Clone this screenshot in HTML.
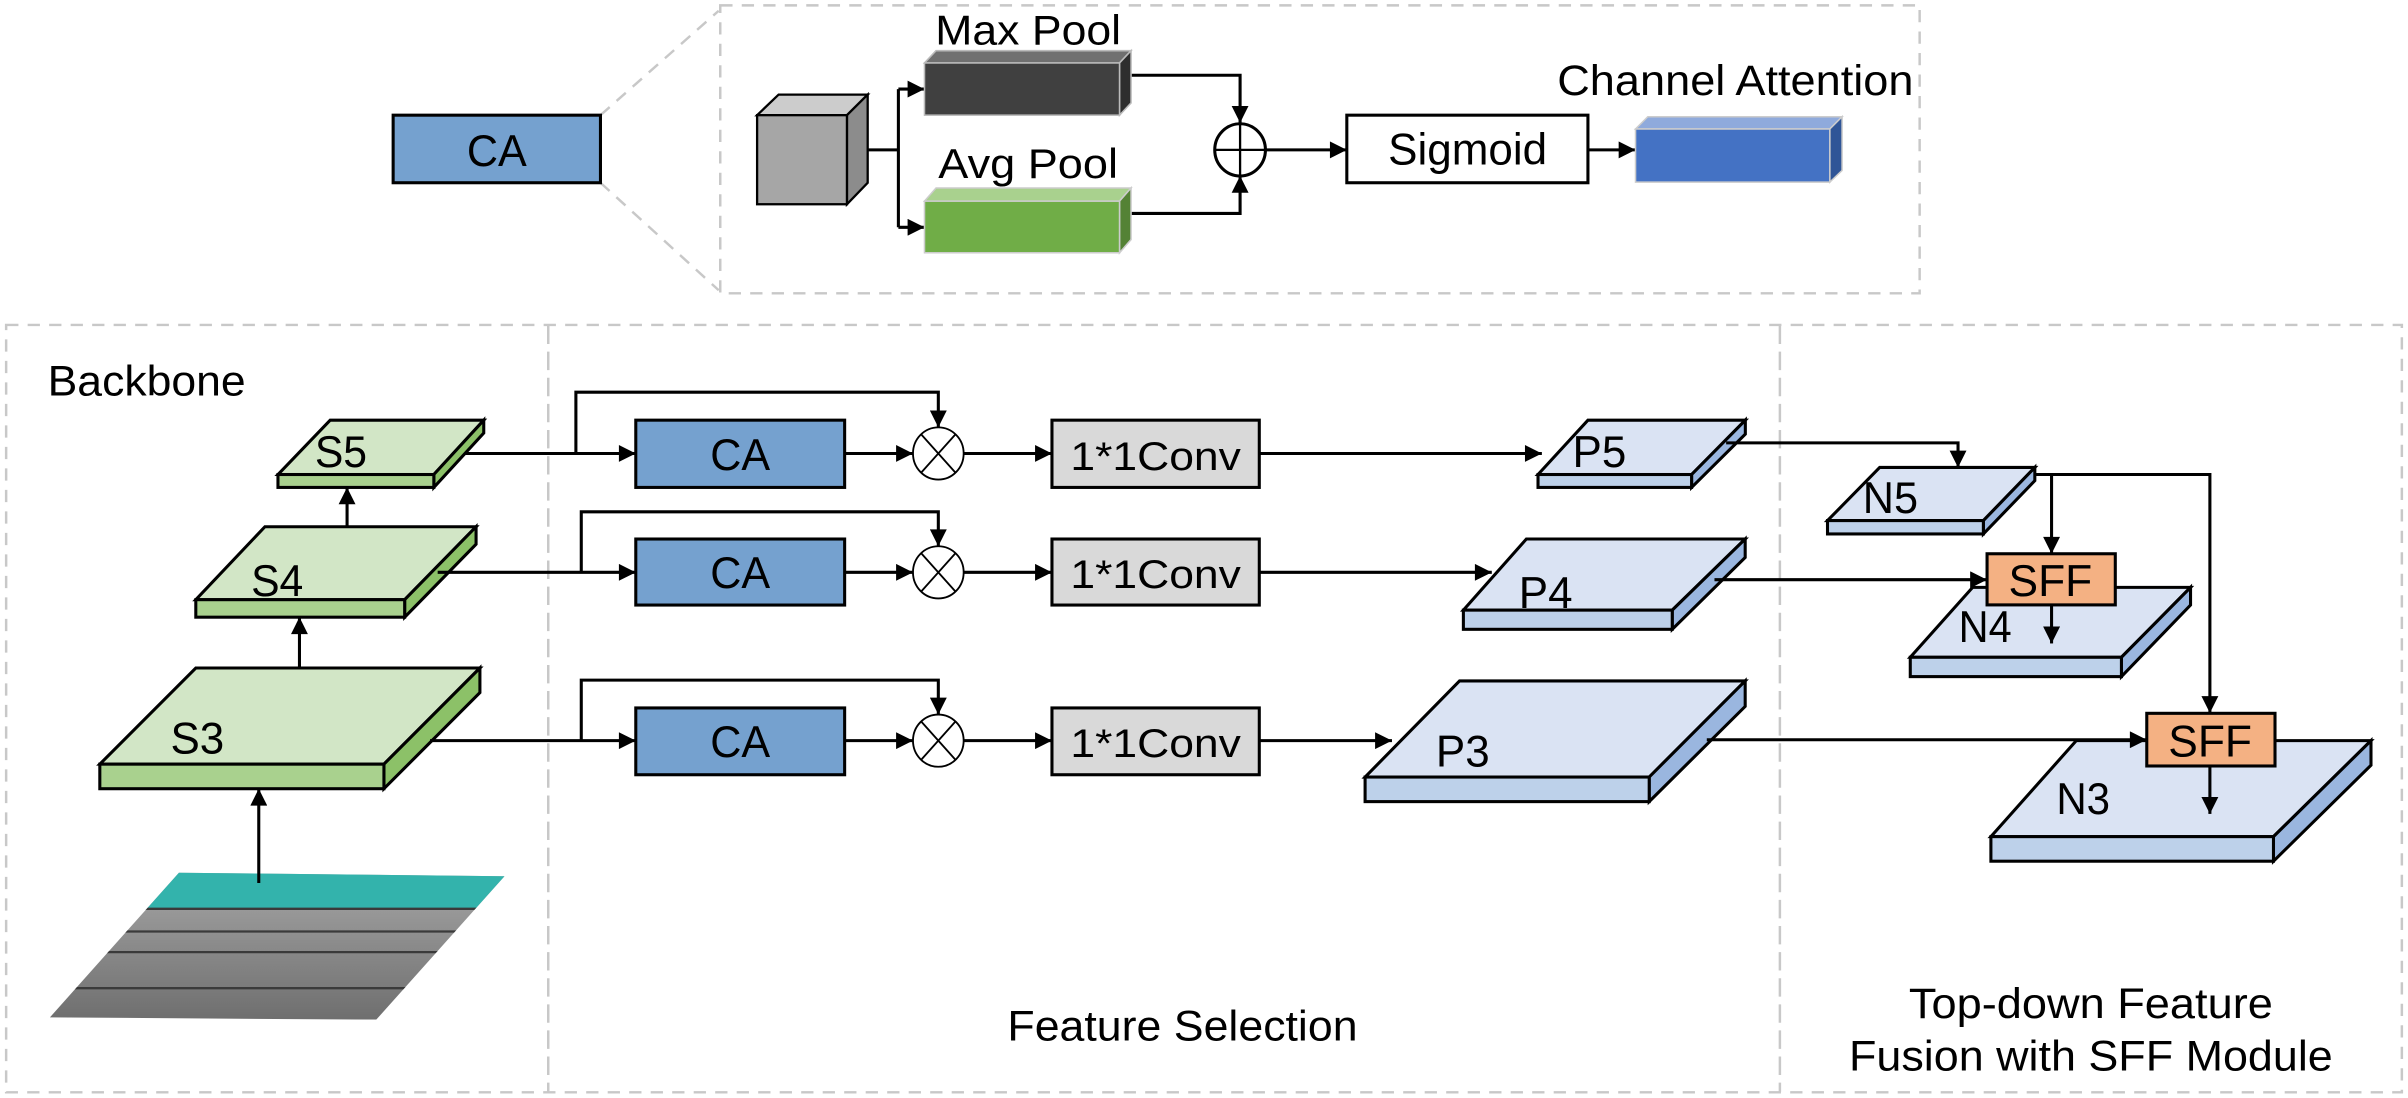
<!DOCTYPE html>
<html><head><meta charset="utf-8"><style>
html,body{margin:0;padding:0;background:#fff;width:2408px;height:1098px;overflow:hidden}
svg{display:block}
text{font-family:"Liberation Sans",Arial,sans-serif;fill:#000}
</style></head><body>
<svg width="2408" height="1098" viewBox="0 0 1568 715" preserveAspectRatio="none" xmlns="http://www.w3.org/2000/svg">
<defs>
<marker id="a" viewBox="0 0 10 10" refX="10" refY="5" markerWidth="13" markerHeight="11" markerUnits="userSpaceOnUse" orient="auto"><path d="M0,0L10,5L0,10z" fill="#000"/></marker>
<linearGradient id="g" x1="0" y1="0" x2="0" y2="1"><stop offset="0" stop-color="#a8a8a8"/><stop offset="1" stop-color="#6e6e6e"/></linearGradient>
<clipPath id="cp"><path d="M116.5,568.3L328.5,570.6L245,664L32.5,662.5z"/></clipPath>
</defs>
<g fill="none" stroke="#c8c8c8" stroke-width="1.6" stroke-dasharray="8,6">
<rect x="469" y="3.5" width="781" height="187.5"/>
<path d="M391,75L468,7M391,119L468,189"/>
<rect x="4" y="211.6" width="1560" height="499.7"/>
<path d="M357,212V711M1159,212V711" stroke-dasharray="12,5"/>
</g>
<!-- top CA -->
<rect x="256" y="75" width="135" height="44" fill="#75a1cf" stroke="#000" stroke-width="2"/>
<text x="323.5" y="108" font-size="29" text-anchor="middle" textLength="39" lengthAdjust="spacingAndGlyphs">CA</text>
<!-- cube -->
<path d="M493,75L507,61.6L565,61.6L551.5,75z" fill="#cccccc" stroke="#000" stroke-width="1.5"/>
<path d="M551.5,75L565,61.6L565,119L551.5,133z" fill="#8c8c8c" stroke="#000" stroke-width="1.5"/>
<rect x="493" y="75" width="58.5" height="58" fill="#a6a6a6" stroke="#000" stroke-width="1.5"/>
<g stroke="#000" stroke-width="2" fill="none">
<path d="M565,97.6H585M585,58V148"/>
<path d="M585,58H602" marker-end="url(#a)"/><path d="M585,148H602" marker-end="url(#a)"/>
<path d="M736.5,49H807.5V80" marker-end="url(#a)"/>
<path d="M736.5,139H807.5V114.5" marker-end="url(#a)"/>
<path d="M824,97.6H877" marker-end="url(#a)"/>
<path d="M1034,97.6H1065" marker-end="url(#a)"/>
</g>
<path d="M602,41L609.5,33L736.5,33L729,41z" fill="#707070" stroke="#bbb" stroke-width="1"/>
<path d="M729,41L736.5,33L736.5,67L729,75z" fill="#2e2e2e" stroke="#bbb" stroke-width="1"/>
<rect x="602" y="41" width="127" height="34" fill="#404040" stroke="#bbb" stroke-width="1"/>
<path d="M602,131L609.5,122.4L736.5,122.4L729,131z" fill="#a9d18e" stroke="#ccc" stroke-width="1"/>
<path d="M729,131L736.5,122.4L736.5,156L729,164.6z" fill="#548235" stroke="#ccc" stroke-width="1"/>
<rect x="602" y="131" width="127" height="33.6" fill="#70ad47" stroke="#ccc" stroke-width="1"/>
<text x="609" y="29" font-size="27" textLength="121" lengthAdjust="spacingAndGlyphs">Max Pool</text>
<text x="611" y="116" font-size="27" textLength="117" lengthAdjust="spacingAndGlyphs">Avg Pool</text>
<ellipse cx="807.5" cy="97.6" rx="16.5" ry="17" fill="#fff" stroke="#000" stroke-width="2"/>
<path d="M791,97.6H824M807.5,80.6V114.6" stroke="#000" stroke-width="1.5"/>
<rect x="877" y="75" width="157" height="44" fill="#fff" stroke="#000" stroke-width="2"/>
<text x="903.9" y="107" font-size="29" textLength="103.5" lengthAdjust="spacingAndGlyphs">Sigmoid</text>
<path d="M1065,84L1073,76L1199.5,76L1191.5,84z" fill="#8faadc" stroke="#ccc" stroke-width="1"/>
<path d="M1191.5,84L1199.5,76L1199.5,111L1191.5,118.6z" fill="#2f5597" stroke="#ccc" stroke-width="1"/>
<rect x="1065" y="84" width="126.5" height="34.6" fill="#4472c4" stroke="#ccc" stroke-width="1"/>
<text x="1014" y="62" font-size="28" textLength="232" lengthAdjust="spacingAndGlyphs">Channel Attention</text>
<!-- labels -->
<text x="31" y="257.6" font-size="28" textLength="129" lengthAdjust="spacingAndGlyphs">Backbone</text>
<text x="656" y="677.7" font-size="28" textLength="228" lengthAdjust="spacingAndGlyphs">Feature Selection</text>
<text x="1243" y="663" font-size="28" textLength="237" lengthAdjust="spacingAndGlyphs">Top-down Feature</text>
<text x="1204" y="697" font-size="28" textLength="315" lengthAdjust="spacingAndGlyphs">Fusion with SFF Module</text>
<!-- image -->
<g clip-path="url(#cp)">
<rect x="30" y="565" width="300" height="100" fill="url(#g)"/>
<rect x="30" y="565" width="300" height="26.8" fill="#33b3ac"/>
<path d="M30,591.8H330M30,606.6H330M30,620H330M30,643.5H330" stroke="#3a3a3a" stroke-width="1.5"/>
</g>
<path d="M168.5,575V513.6" stroke="#000" stroke-width="2" marker-end="url(#a)"/>
<!-- S slabs -->
<g stroke="#000" stroke-width="2">
<path d="M181,309L215,273.6L315,273.6L282.5,309z" fill="#d2e6c6"/>
<path d="M282.5,309L315,273.6L315,282L282.5,317.4z" fill="#8cc168"/>
<rect x="181" y="309" width="101.5" height="8.4" fill="#a9d18e"/>
<path d="M127.5,390.5L172.5,343L310,343L263.5,390.5z" fill="#d2e6c6"/>
<path d="M263.5,390.5L310,343L310,354.4L263.5,401.9z" fill="#8cc168"/>
<rect x="127.5" y="390.5" width="136" height="11.4" fill="#a9d18e"/>
<path d="M65,497.6L127.5,435L312.5,435L250,497.6z" fill="#d2e6c6"/>
<path d="M250,497.6L312.5,435L312.5,451L250,513.6z" fill="#8cc168"/>
<rect x="65" y="497.6" width="185" height="16" fill="#a9d18e"/>
</g>
<path d="M226,343V317.4" stroke="#000" stroke-width="2" marker-end="url(#a)"/>
<path d="M195,435V401.9" stroke="#000" stroke-width="2" marker-end="url(#a)"/>
<text x="205" y="304" font-size="29" textLength="34" lengthAdjust="spacingAndGlyphs">S5</text>
<text x="163.5" y="388" font-size="29" textLength="34" lengthAdjust="spacingAndGlyphs">S4</text>
<text x="111" y="490.8" font-size="29" textLength="35" lengthAdjust="spacingAndGlyphs">S3</text>
<!-- rows -->
<g stroke="#000" stroke-width="2" fill="none">
<path d="M302.5,295.3H414" marker-end="url(#a)"/>
<path d="M375,295.3V255.4H611V278.3" marker-end="url(#a)"/>
<path d="M550,295.3H594.5" marker-end="url(#a)"/>
<path d="M627.5,295.3H685" marker-end="url(#a)"/>
<path d="M820,295.3H1004" marker-end="url(#a)"/>
<path d="M285,372.7H414" marker-end="url(#a)"/>
<path d="M378.5,372.7V333.3H611V355.7" marker-end="url(#a)"/>
<path d="M550,372.7H594.5" marker-end="url(#a)"/>
<path d="M627.5,372.7H685" marker-end="url(#a)"/>
<path d="M820,372.7H971.4" marker-end="url(#a)"/>
<path d="M280,482.3H414" marker-end="url(#a)"/>
<path d="M378.5,482.3V442.9H611V465.3" marker-end="url(#a)"/>
<path d="M550,482.3H594.5" marker-end="url(#a)"/>
<path d="M627.5,482.3H685" marker-end="url(#a)"/>
<path d="M820,482.3H906.4" marker-end="url(#a)"/>
</g>
<g stroke="#000" stroke-width="2">
<rect x="414" y="273.6" width="136" height="43.8" fill="#75a1cf"/>
<rect x="414" y="351" width="136" height="43" fill="#75a1cf"/>
<rect x="414" y="461" width="136" height="43.5" fill="#75a1cf"/>
<rect x="685" y="273.6" width="135" height="43.8" fill="#d9d9d9"/>
<rect x="685" y="351" width="135" height="43" fill="#d9d9d9"/>
<rect x="685" y="461" width="135" height="43.5" fill="#d9d9d9"/>
</g>
<g font-size="29" text-anchor="middle">
<text x="482" y="306" textLength="39" lengthAdjust="spacingAndGlyphs">CA</text>
<text x="482" y="383" textLength="39" lengthAdjust="spacingAndGlyphs">CA</text>
<text x="482" y="493" textLength="39" lengthAdjust="spacingAndGlyphs">CA</text>
<text x="752.5" y="306" font-size="26" textLength="111" lengthAdjust="spacingAndGlyphs">1*1Conv</text>
<text x="752.5" y="383" font-size="26" textLength="111" lengthAdjust="spacingAndGlyphs">1*1Conv</text>
<text x="752.5" y="493" font-size="26" textLength="111" lengthAdjust="spacingAndGlyphs">1*1Conv</text>
</g>
<g fill="#fff" stroke="#000" stroke-width="1.2">
<ellipse cx="611" cy="295.3" rx="16.5" ry="17"/><path d="M600,283L622,307.6M622,283L600,307.6"/>
<ellipse cx="611" cy="372.7" rx="16.5" ry="17"/><path d="M600,360.4L622,385M622,360.4L600,385"/>
<ellipse cx="611" cy="482.3" rx="16.5" ry="17"/><path d="M600,470L622,494.6M622,470L600,494.6"/>
</g>
<!-- P / N slabs -->
<g stroke="#000" stroke-width="2">
<path d="M1001.5,309L1034,273.6L1136.5,273.6L1101.5,309z" fill="#dae3f3"/>
<path d="M1101.5,309L1136.5,273.6L1136.5,282.7L1101.5,317.4z" fill="#9ab6df"/>
<rect x="1001.5" y="309" width="100" height="8.4" fill="#bdd1ea"/>
<path d="M952.9,397.3L993.9,351L1136.4,351L1088.9,397.3z" fill="#dae3f3"/>
<path d="M1088.9,397.3L1136.4,351L1136.4,363L1088.9,409.8z" fill="#9ab6df"/>
<rect x="952.9" y="397.3" width="136" height="12.5" fill="#bdd1ea"/>
<path d="M888.9,506L950.4,443.4L1136.4,443.4L1073.9,506z" fill="#dae3f3"/>
<path d="M1073.9,506L1136.4,443.4L1136.4,460L1073.9,522z" fill="#9ab6df"/>
<rect x="888.9" y="506" width="185" height="16" fill="#bdd1ea"/>
<path d="M1190,339L1224,304.4L1325,304.4L1291.5,339z" fill="#dae3f3"/>
<path d="M1291.5,339L1325,304.4L1325,313L1291.5,347.7z" fill="#9ab6df"/>
<rect x="1190" y="339" width="101.5" height="8.7" fill="#bdd1ea"/>
<path d="M1243.9,428L1284.5,382.5L1426.4,382.5L1381.4,428z" fill="#dae3f3"/>
<path d="M1381.4,428L1426.4,382.5L1426.4,394L1381.4,440.6z" fill="#9ab6df"/>
<rect x="1243.9" y="428" width="137.5" height="12.6" fill="#bdd1ea"/>
<path d="M1296.4,544.8L1352,482.3L1543.9,482.3L1480.4,544.8z" fill="#dae3f3"/>
<path d="M1480.4,544.8L1543.9,482.3L1543.9,498.3L1480.4,560.8z" fill="#9ab6df"/>
<rect x="1296.4" y="544.8" width="184" height="16" fill="#bdd1ea"/>
</g>
<g font-size="29">
<text x="1024" y="304" textLength="35" lengthAdjust="spacingAndGlyphs">P5</text>
<text x="989" y="396" textLength="35" lengthAdjust="spacingAndGlyphs">P4</text>
<text x="935" y="499" textLength="35" lengthAdjust="spacingAndGlyphs">P3</text>
<text x="1213" y="334" textLength="36" lengthAdjust="spacingAndGlyphs">N5</text>
<text x="1275.4" y="418" textLength="34.5" lengthAdjust="spacingAndGlyphs">N4</text>
<text x="1339" y="530" textLength="35" lengthAdjust="spacingAndGlyphs">N3</text>
</g>
<g stroke="#000" stroke-width="2" fill="none">
<path d="M1124,288.4H1275V304.4" marker-end="url(#a)"/>
<path d="M1325,309H1439V464.3" marker-end="url(#a)"/>
<path d="M1335.9,309V360.6" marker-end="url(#a)"/>
<path d="M1116.4,377.5H1293.9" marker-end="url(#a)"/>
<path d="M1111.4,481.7H1397.9" marker-end="url(#a)"/>
<path d="M1335.9,393.9V419" marker-end="url(#a)"/>
<path d="M1439,498.8V530" marker-end="url(#a)"/>
</g>
<g stroke="#000" stroke-width="2" fill="#f4b183">
<rect x="1293.9" y="360.6" width="83.5" height="33.3"/>
<rect x="1397.9" y="464.5" width="83.5" height="34.3"/>
</g>
<text x="1307.9" y="388" font-size="29" textLength="54.5" lengthAdjust="spacingAndGlyphs">SFF</text>
<text x="1411.9" y="492.5" font-size="29" textLength="54.5" lengthAdjust="spacingAndGlyphs">SFF</text>
</svg>
</body></html>
